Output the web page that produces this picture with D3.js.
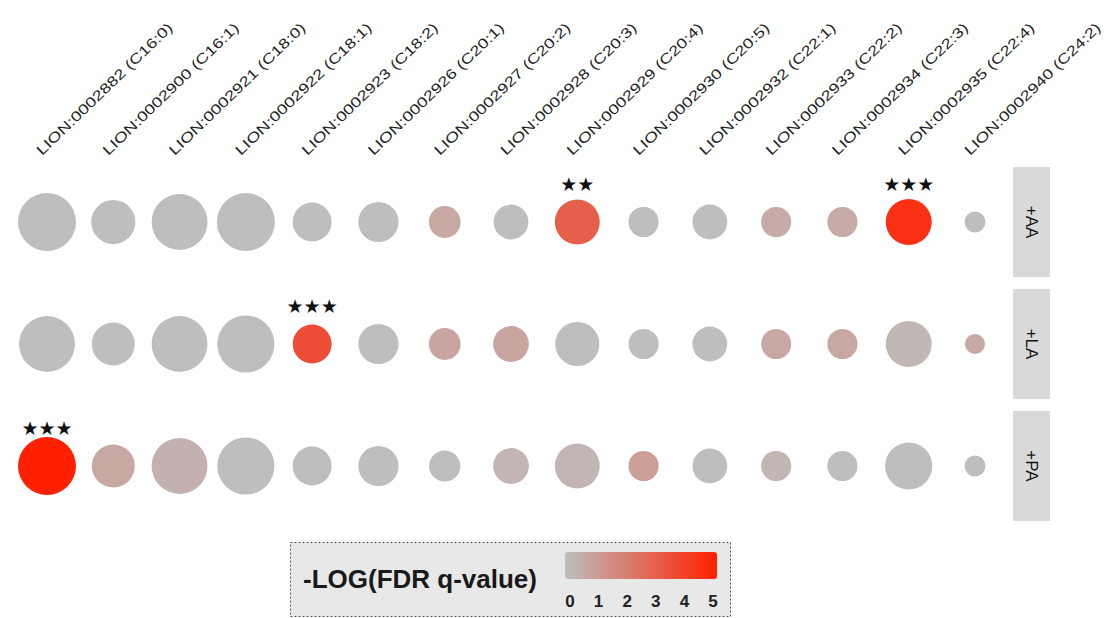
<!DOCTYPE html>
<html>
<head>
<meta charset="utf-8">
<script src="https://cdn.jsdelivr.net/npm/d3@7"></script>
<style>
  html, body { margin: 0; padding: 0; background: #ffffff; }
  svg { display: block; }
</style>
</head>
<body>
<svg id="chart" width="1106" height="618"></svg>
<script>
// ---------------- data ----------------
const categories = [
  "LION:0002882 (C16:0)", "LION:0002900 (C16:1)", "LION:0002921 (C18:0)",
  "LION:0002922 (C18:1)", "LION:0002923 (C18:2)", "LION:0002926 (C20:1)",
  "LION:0002927 (C20:2)", "LION:0002928 (C20:3)", "LION:0002929 (C20:4)",
  "LION:0002930 (C20:5)", "LION:0002932 (C22:1)", "LION:0002933 (C22:2)",
  "LION:0002934 (C22:3)", "LION:0002935 (C22:4)", "LION:0002940 (C24:2)"
];
const conditions = ["+AA", "+LA", "+PA"];

// circle size values (relative)
const sizeAA = [100, 58, 93, 100, 45, 48, 30, 36, 60, 27, 36, 27, 27, 63, 13];
const sizeLA = [93, 55, 93, 97, 45, 48, 30, 38, 58, 27, 36, 27, 27, 63, 12];
const sizePA = [100, 55, 93, 97, 45, 48, 29, 38, 60, 27, 36, 27, 27, 66, 13];

// -LOG(FDR q-value)
const fdrAA = [0, 0, 0, 0, 0, 0, 0.7, 0, 3.0, 0, 0, 0.6, 0.6, 4.5, 0];
const fdrLA = [0, 0, 0, 0, 3.6, 0, 0.8, 0.8, 0, 0, 0, 0.7, 0.7, 0.2, 0.7];
const fdrPA = [5.0, 0.7, 0.4, 0, 0, 0, 0, 0.3, 0.3, 1.0, 0, 0.3, 0, 0, 0];

// significance marks
const starsAA = ["", "", "", "", "", "", "", "", "**", "", "", "", "", "***", ""];
const starsLA = ["", "", "", "", "***", "", "", "", "", "", "", "", "", "", ""];
const starsPA = ["***", "", "", "", "", "", "", "", "", "", "", "", "", "", ""];

const legendTicks = [0, 1, 2, 3, 4, 5];

// ---------------- build rows ----------------
const sizes = { "+AA": sizeAA, "+LA": sizeLA, "+PA": sizePA };
const fdrs = { "+AA": fdrAA, "+LA": fdrLA, "+PA": fdrPA };
const stars = { "+AA": starsAA, "+LA": starsLA, "+PA": starsPA };
const points = [];
conditions.forEach(c => {
  categories.forEach((cat, i) => {
    points.push({ cond: c, cat: cat, size: sizes[c][i], fdr: fdrs[c][i], star: stars[c][i] });
  });
});

// ---------------- scales ----------------
const svg = d3.select("#chart");
const x = d3.scalePoint().domain(categories).range([47, 975]);
const y = d3.scaleBand().domain(conditions).range([167, 521]).paddingInner(0.0984).paddingOuter(0);
const r = d3.scaleSqrt().domain([0, 100]).range([0, 29]);
const color = d3.scaleLinear().domain([0, 5]).range(["#bebebe", "#ff2000"]).interpolate(d3.interpolateRgb);
const yc = c => y(c) + y.bandwidth() / 2;

// ---------------- axis labels (top, rotated) ----------------
svg.append("g").selectAll("text")
  .data(categories).join("text")
  .attr("transform", d => `translate(${x(d) - 5},156) rotate(-44)`)
  .attr("text-anchor", "start")
  .attr("font-family", "Liberation Sans, Arial, sans-serif")
  .attr("font-size", 14)
  .attr("textLength", 183)
  .attr("lengthAdjust", "spacingAndGlyphs")
  .attr("fill", "#222")
  .text(d => d);

// ---------------- strips ----------------
const strips = svg.append("g");
strips.selectAll("rect").data(conditions).join("rect")
  .attr("x", 1013).attr("width", 37)
  .attr("y", d => y(d)).attr("height", y.bandwidth())
  .attr("fill", "#d9d9d9");
strips.selectAll("text").data(conditions).join("text")
  .attr("transform", d => `translate(1031.5,${yc(d)}) rotate(90)`)
  .attr("text-anchor", "middle")
  .attr("dominant-baseline", "central")
  .attr("font-family", "Liberation Sans, Arial, sans-serif")
  .attr("font-size", 17)
  .attr("fill", "#111")
  .text(d => d);

// ---------------- circles ----------------
svg.append("g").selectAll("circle")
  .data(points).join("circle")
  .attr("cx", d => x(d.cat))
  .attr("cy", d => yc(d.cond))
  .attr("r", d => r(d.size))
  .attr("fill", d => color(d.fdr));

// ---------------- stars ----------------
svg.append("g").selectAll("text")
  .data(points.filter(d => d.star)).join("text")
  .attr("x", d => x(d.cat))
  .attr("y", d => yc(d.cond) - 38)
  .attr("text-anchor", "middle")
  .attr("dominant-baseline", "central")
  .attr("font-family", "DejaVu Sans, sans-serif")
  .attr("font-size", 19)
  .attr("fill", "#111")
  .text(d => d.star.replace(/\*/g, "\u2605"));

// ---------------- legend ----------------
const lg = svg.append("g");
lg.append("rect")
  .attr("x", 290.5).attr("y", 542.5).attr("width", 440).attr("height", 74)
  .attr("fill", "#e8e8e8")
  .attr("stroke", "#555").attr("stroke-width", 1).attr("stroke-dasharray", "2,2");
lg.append("text")
  .attr("x", 303).attr("y", 588)
  .attr("font-family", "Liberation Sans, Arial, sans-serif")
  .attr("font-size", 26).attr("font-weight", "bold")
  .attr("fill", "#1a1a1a")
  .text("-LOG(FDR q-value)");

const lx = d3.scaleLinear().domain([0, 5]).range([570, 713]);
const defs = svg.append("defs");
const grad = defs.append("linearGradient").attr("id", "fdrgrad")
  .attr("x1", "0%").attr("x2", "100%").attr("y1", "0%").attr("y2", "0%");
legendTicks.forEach(t => {
  grad.append("stop").attr("offset", (t / 5 * 100) + "%").attr("stop-color", color(t));
});
lg.append("rect")
  .attr("x", 565).attr("y", 552).attr("width", 152).attr("height", 27)
  .attr("rx", 3)
  .attr("fill", "url(#fdrgrad)");
lg.append("g").selectAll("text")
  .data(legendTicks).join("text")
  .attr("x", d => lx(d)).attr("y", 607)
  .attr("text-anchor", "middle")
  .attr("font-family", "Liberation Sans, Arial, sans-serif")
  .attr("font-size", 17).attr("font-weight", "bold")
  .attr("fill", "#222")
  .text(d => d);
</script>
</body>
</html>
